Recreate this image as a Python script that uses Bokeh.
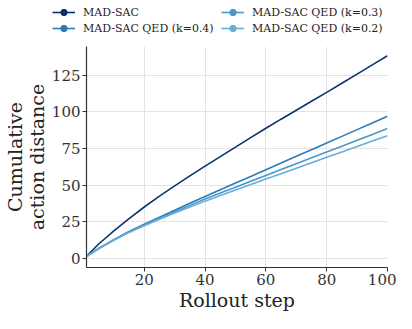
from bokeh.plotting import figure
from bokeh.layouts import column
from bokeh.models import (Range1d, FixedTicker, Legend, LegendItem)
from bokeh.embed import file_html
from bokeh.resources import INLINE

steps = [1, 5, 10, 15, 20, 25, 30, 35, 40, 45, 50, 55, 60, 65, 70, 75, 80, 85, 90, 95, 100]
mad_sac = [1.5, 10.0, 19.0, 27.3, 35.2, 42.6, 49.6, 56.4, 63.0, 69.5, 76.0, 82.4, 88.8,
           95.0, 101.1, 107.2, 113.3, 119.5, 125.7, 132.0, 138.2]
qed_k04 = [1.5, 7.0, 13.0, 18.5, 23.5, 28.3, 33.0, 37.7, 42.3, 46.9, 51.5, 56.0, 60.6,
           65.1, 69.7, 74.2, 78.8, 83.3, 87.9, 92.4, 97.0]
qed_k03 = [1.5, 6.9, 12.8, 18.2, 23.0, 27.6, 32.0, 36.3, 40.6, 44.7, 48.7, 52.7, 56.7,
           60.7, 64.7, 68.7, 72.6, 76.6, 80.6, 84.6, 88.6]
qed_k02 = [1.5, 6.8, 12.6, 17.9, 22.5, 26.9, 31.1, 35.2, 39.2, 43.0, 46.8, 50.5, 54.2,
           57.9, 61.6, 65.3, 69.0, 72.7, 76.4, 80.1, 83.8]

series_labels = ["MAD-SAC", "MAD-SAC QED (k=0.4)", "MAD-SAC QED (k=0.3)", "MAD-SAC QED (k=0.2)"]
series_values = [mad_sac, qed_k04, qed_k03, qed_k02]
colors = ["#0b3270", "#2b7bba", "#4a98c9", "#6cadd8"]
x_ticks = [20, 40, 60, 80, 100]
y_ticks = [0, 25, 50, 75, 100, 125]

FONT = "DejaVu Serif"
INK = "#333333"

# ---- legend strip (separate small figure on top; its own ranges hide the lines) ----
lf = figure(width=396, height=34, output_backend="svg", toolbar_location=None,
            x_range=Range1d(-2, -1), y_range=Range1d(-2, -1),
            x_axis_type=None, y_axis_type=None,
            min_border_left=0, min_border_right=0, min_border_top=0, min_border_bottom=0)
lf.outline_line_color = None
lf.xgrid.grid_line_color = None
lf.ygrid.grid_line_color = None

# ---- main chart ----
p = figure(width=396, height=279, output_backend="svg", toolbar_location=None,
           x_range=Range1d(1, 100), y_range=Range1d(-6, 144.5),
           min_border_left=76, min_border_right=9, min_border_top=12, min_border_bottom=40)
p.outline_line_color = None
p.background_fill_color = "white"

p.xaxis.ticker = FixedTicker(ticks=x_ticks)
p.yaxis.ticker = FixedTicker(ticks=y_ticks)
p.xaxis.axis_label = "Rollout step"
p.yaxis.axis_label = "Cumulative\naction distance"
for ax in (p.xaxis[0], p.yaxis[0]):
    ax.axis_label_text_font = FONT
    ax.axis_label_text_font_size = "19px"
    ax.axis_label_text_font_style = "normal"
    ax.axis_label_text_color = "#222222"
    ax.axis_label_text_line_height = 1.0
    ax.major_label_text_font = FONT
    ax.major_label_text_font_size = "15px"
    ax.major_label_text_color = INK
    ax.axis_line_color = INK
    ax.axis_line_width = 1.2
    ax.major_tick_line_color = INK
    ax.major_tick_in = 0
    ax.major_tick_out = 4
    ax.minor_tick_line_color = None
    ax.major_label_standoff = 2
    ax.axis_label_standoff = 1

p.xgrid.grid_line_color = "#e3e3e3"
p.ygrid.grid_line_color = "#e3e3e3"

items = []
for lab, vals, c in zip(series_labels, series_values, colors):
    p.line(steps, vals, line_color=c, line_width=1.6)
    lr = lf.line(steps, vals, line_color=c, line_width=1.6)
    lm = lf.scatter(steps, vals, marker="circle", size=7, fill_color=c, line_color=c)
    items.append(LegendItem(label=lab, renderers=[lr, lm]))

def make_legend(its, x):
    return Legend(items=its, location=(x, -2), orientation="vertical",
                  border_line_color=None, background_fill_alpha=0,
                  padding=0, margin=0, spacing=0,
                  glyph_width=23, glyph_height=16, label_height=16,
                  label_standoff=8, label_text_font=FONT,
                  label_text_font_size="11px", label_text_color="#222222")

lf.add_layout(make_legend(items[:2], 52))
lf.add_layout(make_legend(items[2:], 221))

layout = column(column(lf), p, spacing=0)
open("out.html", "w").write(file_html(layout, INLINE))
